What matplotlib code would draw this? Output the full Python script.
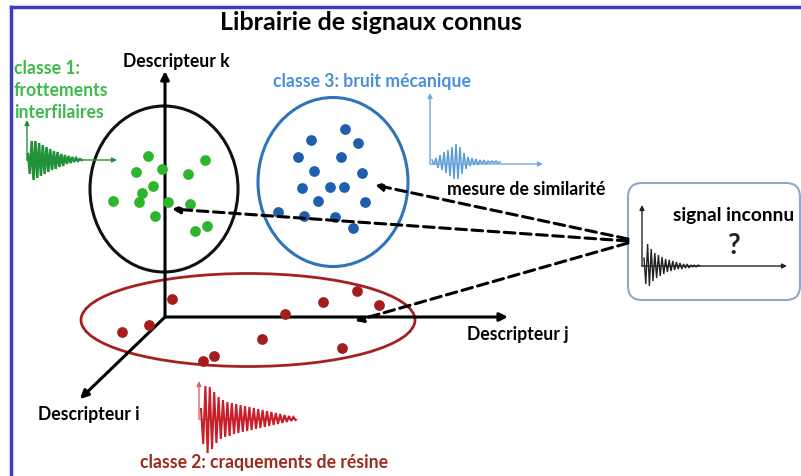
"""Schéma : librairie de signaux connus, classification par similarité."""

import matplotlib
matplotlib.use("Agg")
import matplotlib.pyplot as plt
from matplotlib.patches import Ellipse, FancyBboxPatch

plt.rcParams["font.family"] = ["Lato", "DejaVu Sans"]

# ----------------------------------------------------------------------
# Données (coordonnées en pixels de l'image, y vers le bas)
# ----------------------------------------------------------------------
green_x = [148, 136, 162, 188, 205, 153, 142, 139, 113, 168, 190, 155, 195, 207]
green_y = [157, 173, 170, 175, 161, 187, 194, 203, 202, 203, 205, 217, 232, 227]

blue_x = [345, 311, 358, 298, 341, 314, 362, 302, 330, 344, 318, 365, 278, 304, 335, 353]
blue_y = [130, 141, 144, 158, 158, 172, 174, 189, 188, 188, 202, 203, 213, 217, 218, 229]

red_x = [172, 122, 149, 285, 323, 357, 379, 262, 342, 203, 214]
red_y = [300, 333, 326, 315, 303, 292, 306, 340, 349, 362, 357]

# amplitudes crête des signaux
green_peaks = [6, 14, 19, 20, 19, 18, 17, 16, 15, 14, 13, 12, 11, 10, 9, 9,
               8, 7, 6, 6, 5, 4, 4, 3, 3, 2, 2, 1, 1, 0]
blue_peaks = [2, 3, 4, 6, 7, 8, 10, 11, 12, 14, 15, 17, 18, 17, 15, 12, 9, 7,
              5, 4, 4, 3, 3, 3, 2, 2, 2, 2, 1, 1, 1, 1, 1, 1, 0]
red_peaks = [10, 25, 33, 34, 32, 30, 27, 24, 22, 20, 19, 18, 17, 17, 16, 15,
             15, 14, 14, 13, 13, 12, 12, 11, 11, 10, 10, 9, 9, 8, 8, 7, 7, 6,
             6, 5, 5, 4, 4, 3, 3, 2, 2, 1]
unknown_peaks = [8, 18, 22, 20, 17, 15, 13, 12, 11, 10, 9, 8, 7, 6, 6, 5, 5,
                 4, 4, 3, 3, 3, 2, 2, 2, 2, 1, 1, 1, 1, 1, 0]

# cibles des flèches de similarité
sim_targets = [(172, 210), (375, 186), (355, 322)]
sim_sources = [(628, 242), (628, 240), (628, 244)]

LABEL_FS = 12.7


def draw_signal(ax, x0, y0, peaks, dx, color, lw=1.0):
    xs = [x0 + i * dx for i in range(len(peaks))]
    ys = [y0 + (a if i % 2 else -a) for i, a in enumerate(peaks)]
    ax.plot(xs, ys, color=color, lw=lw, solid_joinstyle="miter")


def arrow(ax, start, end, color="black", lw=2.0, ls="-", ms=12):
    ax.annotate("", xy=end, xytext=start,
                arrowprops=dict(arrowstyle="-|>", color=color, lw=lw,
                                linestyle=ls, mutation_scale=ms,
                                shrinkA=0, shrinkB=0))


fig = plt.figure(figsize=(8.01, 4.77), dpi=100)
ax = fig.add_axes([0, 0, 1, 1])
ax.set_xlim(0, 801)
ax.set_ylim(477, 0)
ax.axis("off")

# cadre bleu (haut et gauche)
ax.plot([11, 801], [8, 8], color="#3c3cc8", lw=2.5)
ax.plot([11, 11], [8, 477], color="#3c3cc8", lw=2.5)

ax.text(371, 22, "Librairie de signaux connus", ha="center", va="center",
        fontsize=18, fontweight="bold", color="black")

# axes des descripteurs
arrow(ax, (165, 318), (165, 72), lw=2.2)
arrow(ax, (165, 318), (508, 318), lw=2.2)
arrow(ax, (165, 318), (80, 400), lw=2.2)
ax.text(123, 62, "Descripteur k", va="center", fontsize=LABEL_FS, fontweight="bold")
ax.text(467, 335, "Descripteur j", va="center", fontsize=LABEL_FS, fontweight="bold")
ax.text(38, 415, "Descripteur i", va="center", fontsize=LABEL_FS, fontweight="bold")

# classes
ax.add_patch(Ellipse((164, 190), 148, 166, fill=False, ec="#111111", lw=2.2))
ax.add_patch(Ellipse((333, 183), 150, 169, fill=False, ec="#2f73b8", lw=2.2))
ax.add_patch(Ellipse((248, 321), 334, 93, fill=False, ec="#a52020", lw=2.0))

ax.scatter(green_x, green_y, s=60, color="#2db52d", zorder=3, lw=0)
ax.scatter(blue_x, blue_y, s=60, color="#1f5fad", zorder=3, lw=0)
ax.scatter(red_x, red_y, s=60, color="#a51d1d", zorder=3, lw=0)

# libellés des classes
for i, line in enumerate(["classe 1:", "frottements", "interfilaires"]):
    ax.text(14, 68 + 22 * i, line, va="center", fontsize=LABEL_FS,
            fontweight="bold", color="#3dba4a")
ax.text(273, 82, "classe 3: bruit mécanique", va="center", fontsize=LABEL_FS,
        fontweight="bold", color="#4a90d9")
ax.text(140, 463, "classe 2: craquements de résine", va="center",
        fontsize=LABEL_FS, fontweight="bold", color="#9c2a1e")

# signaux type
arrow(ax, (27, 161), (27, 121), color="#21913a", lw=1.0, ms=7)
arrow(ax, (27, 161), (117, 161), color="#21913a", lw=1.0, ms=7)
draw_signal(ax, 28, 161, green_peaks, 1.85, "#21913a", lw=1.8)

arrow(ax, (430, 165), (430, 94), color="#6fa8dc", lw=1.0, ms=7)
arrow(ax, (430, 165), (543, 165), color="#6fa8dc", lw=1.0, ms=7)
draw_signal(ax, 432, 163, blue_peaks, 2.0, "#5b9bd5", lw=1.1)

arrow(ax, (199, 420), (199, 382), color="#d46a6a", lw=1.0, ms=7)
ax.plot([199, 297], [420, 420], color="#d98a8a", lw=0.8)
draw_signal(ax, 201, 420, red_peaks, 2.2, "#c8202a", lw=1.5)

# signal inconnu
ax.add_patch(FancyBboxPatch((628, 184), 172, 117,
                            boxstyle="round,pad=0,rounding_size=14",
                            fill=False, ec="#8fa8c8", lw=1.5))
arrow(ax, (642, 267), (642, 206), color="#222222", lw=1.0, ms=7)
arrow(ax, (642, 267), (787, 267), color="#222222", lw=1.0, ms=7)
draw_signal(ax, 644, 267, unknown_peaks, 1.8, "#222222", lw=1.0)
ax.text(673, 216, "signal inconnu", va="center", fontsize=13.8, fontweight="bold")
ax.text(733, 246, "?", ha="center", va="center", fontsize=20,
        fontweight="bold", color="#222222")

# mesure de similarité
for src, dst in zip(sim_sources, sim_targets):
    arrow(ax, src, dst, lw=2.2, ls=(0, (3.5, 1.8)), ms=11)
ax.text(447, 190, "mesure de similarité", va="center", fontsize=LABEL_FS,
        fontweight="bold")

fig.savefig("out.png", dpi=100)
